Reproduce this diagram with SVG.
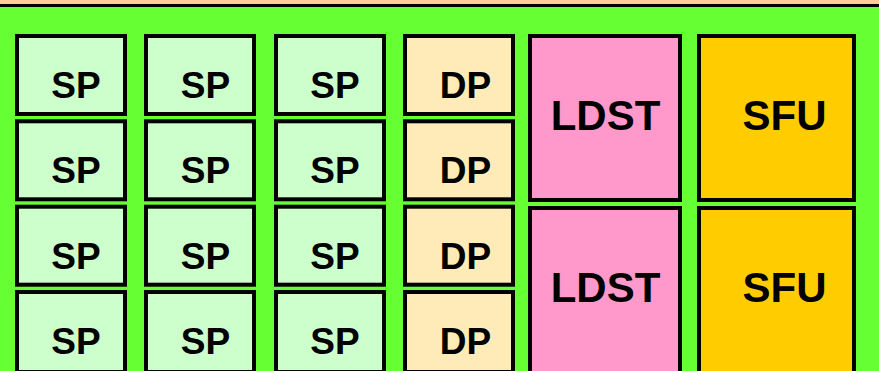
<svg xmlns="http://www.w3.org/2000/svg" width="879" height="371" viewBox="0 0 879 371">
  <style>
    .unit { stroke: #000; stroke-width: 4; }
    .sp { fill: #CCFFCC; }
    .dp { fill: #FFEBB8; }
    .ldst { fill: #FF99CC; }
    .sfu { fill: #FFCC00; }
    text { font-family: "Liberation Sans", Arial, sans-serif; font-weight: bold; fill: #000; text-anchor: middle; }
    .s { font-size: 37px; }
    .l { font-size: 42px; }
  </style>
  <!-- background -->
  <rect x="0" y="0" width="879" height="371" fill="#66FF33"/>
  <rect x="0" y="0" width="879" height="4" fill="#FFCC99"/>
  <rect x="0" y="4" width="879" height="3" fill="#000"/>

  <!-- SP column 1 -->
  <g id="sp-1-1"><rect class="unit sp" x="17" y="36" width="108" height="78"/><text class="s" x="76" y="98">SP</text></g>
  <g id="sp-2-1"><rect class="unit sp" x="17" y="121.3" width="108" height="78"/><text class="s" x="76" y="183.3">SP</text></g>
  <g id="sp-3-1"><rect class="unit sp" x="17" y="206.7" width="108" height="78"/><text class="s" x="76" y="268.7">SP</text></g>
  <g id="sp-4-1"><rect class="unit sp" x="17" y="292" width="108" height="80"/><text class="s" x="76" y="354">SP</text></g>

  <!-- SP column 2 -->
  <g id="sp-1-2"><rect class="unit sp" x="146" y="36" width="108" height="78"/><text class="s" x="205.5" y="98">SP</text></g>
  <g id="sp-2-2"><rect class="unit sp" x="146" y="121.3" width="108" height="78"/><text class="s" x="205.5" y="183.3">SP</text></g>
  <g id="sp-3-2"><rect class="unit sp" x="146" y="206.7" width="108" height="78"/><text class="s" x="205.5" y="268.7">SP</text></g>
  <g id="sp-4-2"><rect class="unit sp" x="146" y="292" width="108" height="80"/><text class="s" x="205.5" y="354">SP</text></g>

  <!-- SP column 3 -->
  <g id="sp-1-3"><rect class="unit sp" x="276" y="36" width="108" height="78"/><text class="s" x="335" y="98">SP</text></g>
  <g id="sp-2-3"><rect class="unit sp" x="276" y="121.3" width="108" height="78"/><text class="s" x="335" y="183.3">SP</text></g>
  <g id="sp-3-3"><rect class="unit sp" x="276" y="206.7" width="108" height="78"/><text class="s" x="335" y="268.7">SP</text></g>
  <g id="sp-4-3"><rect class="unit sp" x="276" y="292" width="108" height="80"/><text class="s" x="335" y="354">SP</text></g>

  <!-- DP column -->
  <g id="dp-1"><rect class="unit dp" x="405" y="36" width="108" height="78"/><text class="s" x="465.5" y="98">DP</text></g>
  <g id="dp-2"><rect class="unit dp" x="405" y="121.3" width="108" height="78"/><text class="s" x="465.5" y="183.3">DP</text></g>
  <g id="dp-3"><rect class="unit dp" x="405" y="206.7" width="108" height="78"/><text class="s" x="465.5" y="268.7">DP</text></g>
  <g id="dp-4"><rect class="unit dp" x="405" y="292" width="108" height="80"/><text class="s" x="465.5" y="354">DP</text></g>

  <!-- load/store units -->
  <g id="ldst-1"><rect class="unit ldst" x="530" y="36" width="150" height="164"/><text class="l" x="605.5" y="130">LDST</text></g>
  <g id="ldst-2"><rect class="unit ldst" x="530" y="208" width="150" height="170"/><text class="l" x="605.5" y="302">LDST</text></g>

  <!-- special function units -->
  <g id="sfu-1"><rect class="unit sfu" x="699" y="36" width="155" height="164"/><text class="l" x="784.5" y="130">SFU</text></g>
  <g id="sfu-2"><rect class="unit sfu" x="699" y="208" width="155" height="170"/><text class="l" x="784.5" y="302">SFU</text></g>

  <g id="connectors"></g>
</svg>
